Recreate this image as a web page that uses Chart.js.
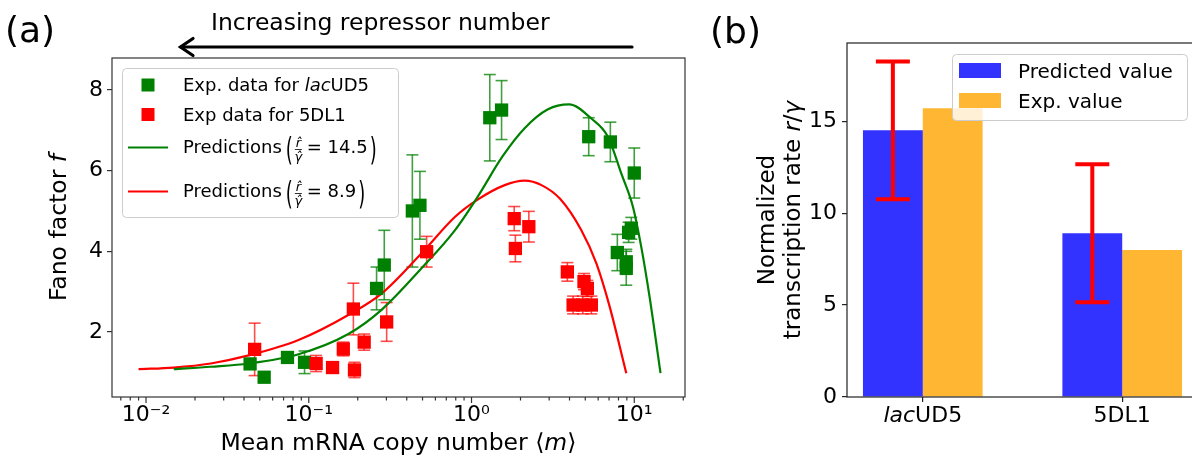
<!DOCTYPE html>
<html>
<head>
<meta charset="utf-8">
<script src="https://cdn.jsdelivr.net/npm/chart.js@4.4.0/dist/chart.umd.min.js"></script>
<style>
  html, body { margin: 0; padding: 0; background: #fff; overflow: hidden; }
  #wrap { position: relative; width: 1192px; height: 455px; overflow: hidden; }
  #chartA { position: absolute; left: 0; top: 0; }
  #chartB { position: absolute; left: 700px; top: 0; }
</style>
</head>
<body>
<div id="wrap">
  <canvas id="chartA" width="700" height="455"></canvas>
  <canvas id="chartB" width="540" height="455"></canvas>
</div>
<script>
// (a) experimental points, lacUD5
var lacX = [0.0436, 0.0532, 0.074, 0.0942, 0.261, 0.291, 0.433, 0.482, 1.295, 1.53, 5.25, 7.13, 7.87, 8.93, 8.93, 9.23, 9.59, 10.0]
var lacY = [1.21, 0.88, 1.37, 1.25, 3.08, 3.66, 5.0, 5.14, 7.31, 7.5, 6.84, 6.71, 3.97, 3.74, 3.58, 4.47, 4.57, 5.94]
var lacErr = [0.1, 0.1, 0.1, 0.28, 0.53, 0.86, 1.39, 0.84, 1.07, 0.73, 0.47, 0.49, 0.45, 0.31, 0.42, 0.25, 0.27, 0.62]

// (a) experimental points, 5DL1
var dlX = [0.0465, 0.111, 0.14, 0.163, 0.188, 0.191, 0.219, 0.301, 0.53, 1.83, 1.86, 2.25, 3.88, 4.21, 4.83, 4.91, 5.15, 5.45]
var dlY = [1.57, 1.22, 1.12, 1.58, 2.57, 1.06, 1.75, 2.25, 3.99, 4.81, 4.07, 4.61, 3.49, 2.67, 2.67, 3.25, 3.08, 2.67]
var dlErr = [0.65, 0.2, 0.1, 0.17, 0.64, 0.19, 0.2, 0.48, 0.38, 0.3, 0.33, 0.38, 0.23, 0.22, 0.22, 0.2, 0.2, 0.22]

// (a) prediction curves
var lacFitX = [0.0148, 0.025, 0.0427, 0.0865, 0.175, 0.28, 0.493, 0.79, 1.09, 1.55, 2.12, 2.95, 3.97, 5.45, 6.89, 8.32, 9.82, 11.04, 12.42, 14.5]
var lacFitY = [1.08, 1.14, 1.22, 1.45, 1.95, 2.55, 3.58, 4.52, 5.35, 6.35, 7.05, 7.52, 7.64, 7.29, 6.84, 5.93, 5.1, 4.11, 2.87, 0.98]
var dlFitX = [0.009, 0.0148, 0.025, 0.0427, 0.0865, 0.175, 0.28, 0.493, 0.79, 1.09, 1.6, 2.12, 2.69, 3.5, 4.73, 5.85, 7.06, 8.93]
var dlFitY = [1.08, 1.12, 1.22, 1.42, 1.8, 2.42, 2.95, 3.95, 4.85, 5.28, 5.64, 5.75, 5.64, 5.3, 4.52, 3.7, 2.63, 0.98]

var xMajorTicks = [0.01, 0.1, 1, 10]
var xTickLabels = ['10⁻²', '10⁻¹', '10⁰', '10¹']
var yTicksA = [2, 4, 6, 8]

// (b) bars
var strains = ['lac', 'UD5']
var barCats = [0, 1]
var predicted = [14.5, 8.9]
var predictedErr = [3.75, 3.75]
var measured = [15.7, 8.0]
var yTicksB = [0, 5, 10, 15]

var FONT = '"DejaVu Sans", sans-serif'
Chart.defaults.font.family = FONT
Chart.defaults.color = '#000'

function setFont(ctx, size, italic) {
  ctx.font = (italic ? 'italic ' : '') + size + 'px ' + FONT
}

// draws text made of upright / italic pieces
function drawRich(ctx, parts, x, y, size, align) {
  var w = 0
  parts.forEach(function (p) {
    setFont(ctx, size, p.italic)
    w += ctx.measureText(p.text).width
  })
  var cx = align === 'center' ? x - w / 2 : x
  ctx.textAlign = 'left'
  ctx.textBaseline = 'alphabetic'
  parts.forEach(function (p) {
    setFont(ctx, size, p.italic)
    ctx.fillText(p.text, cx, y)
    cx += ctx.measureText(p.text).width
  })
  return cx
}

function bigParen(ctx, ch, x, cy, size) {
  ctx.save()
  setFont(ctx, size, false)
  ctx.textBaseline = 'alphabetic'
  ctx.textAlign = 'left'
  ctx.translate(x, cy)
  ctx.scale(1, 1.75)
  ctx.fillText(ch, 0, 0.314 * size)
  var w = ctx.measureText(ch).width
  ctx.restore()
  return x + w
}

// "Predictions (r^/γ^ = v)"
function drawPrediction(ctx, x, b, value) {
  setFont(ctx, 18, false)
  ctx.fillText('Predictions', x, b)
  x += ctx.measureText('Predictions').width + 4
  x = bigParen(ctx, '(', x, b - 2.5, 18) + 2
  setFont(ctx, 13, true)
  ctx.textAlign = 'center'
  ctx.fillText('r\u0302', x + 3.5, b - 6)
  ctx.fillText('\u03b3\u0302', x + 3.5, b + 8)
  ctx.textAlign = 'left'
  ctx.fillRect(x, b - 4, 7, 0.8)
  x += 12
  setFont(ctx, 18, false)
  ctx.fillText('= ' + value, x, b)
  x += ctx.measureText('= ' + value).width + 2
  bigParen(ctx, ')', x, b - 2.5, 18)
}

function line(ctx, x1, y1, x2, y2) {
  ctx.beginPath()
  ctx.moveTo(x1, y1)
  ctx.lineTo(x2, y2)
  ctx.stroke()
}

var errorBarsA = {
  id: 'errorBarsA',
  beforeDatasetsDraw: function (chart) {
    var ctx = chart.ctx
    var x = chart.scales.x
    var y = chart.scales.y
    chart.data.datasets.forEach(function (ds) {
      if (!ds.errors) return
      ctx.save()
      ctx.strokeStyle = ds.errorColor
      ctx.lineWidth = 1.6
      ds.data.forEach(function (p, i) {
        var px = x.getPixelForValue(p.x)
        var top = y.getPixelForValue(p.y + ds.errors[i])
        var bot = y.getPixelForValue(p.y - ds.errors[i])
        line(ctx, px, top, px, bot)
        line(ctx, px - 6, top, px + 6, top)
        line(ctx, px - 6, bot, px + 6, bot)
      })
      ctx.restore()
    })
  },
}

var decorA = {
  id: 'decorA',
  afterDraw: function (chart) {
    var ctx = chart.ctx
    var a = chart.chartArea
    var x = chart.scales.x
    ctx.save()
    ctx.strokeStyle = '#333'
    ctx.lineWidth = 1.2
    ctx.strokeRect(a.left, a.top, a.right - a.left, a.bottom - a.top)
    x.ticks.forEach(function (t) {
      var px = x.getPixelForValue(t.value)
      line(ctx, px, a.bottom, px, a.bottom + (t.major ? 6 : 3.5))
    })

    ctx.fillStyle = '#000'
    // axis titles
    drawRich(ctx, [{ text: 'Mean mRNA copy number ' }, { text: '\u27e8' }, { text: 'm', italic: true }, { text: '\u27e9' }], (a.left + a.right) / 2, 450, 23.5, 'center')
    ctx.save()
    ctx.translate(66, (a.top + a.bottom) / 2)
    ctx.rotate(-Math.PI / 2)
    drawRich(ctx, [{ text: 'Fano factor ' }, { text: 'f', italic: true }], 0, 0, 23.5, 'center')
    ctx.restore()

    // panel label and arrow
    setFont(ctx, 36, false)
    ctx.fillText('(a)', 5, 42)
    setFont(ctx, 23.5, false)
    ctx.fillText('Increasing repressor number', 211, 30)
    ctx.lineWidth = 3.2
    ctx.strokeStyle = '#000'
    ctx.lineCap = 'round'
    line(ctx, 632, 47, 181, 47)
    ctx.beginPath()
    ctx.moveTo(193, 38.5)
    ctx.lineTo(180.5, 47)
    ctx.lineTo(193, 55.5)
    ctx.stroke()
    ctx.lineCap = 'butt'

    // legend
    ctx.fillStyle = 'rgba(255,255,255,0.8)'
    ctx.strokeStyle = '#cccccc'
    ctx.lineWidth = 1
    ctx.beginPath()
    ctx.roundRect(122.5, 68.5, 276, 149, 4)
    ctx.fill()
    ctx.stroke()
    ctx.fillStyle = '#008000'
    ctx.fillRect(141.5, 78.5, 13, 13)
    ctx.fillStyle = '#ff0000'
    ctx.fillRect(141.5, 108, 13, 13)
    ctx.lineWidth = 2
    ctx.strokeStyle = '#008000'
    line(ctx, 128, 147.5, 168, 147.5)
    ctx.strokeStyle = '#ff0000'
    line(ctx, 128, 191.5, 168, 191.5)
    ctx.fillStyle = '#000'
    drawRich(ctx, [{ text: 'Exp. data for ' }, { text: 'lac', italic: true }, { text: 'UD5' }], 183, 91, 18)
    drawRich(ctx, [{ text: 'Exp data for 5DL1' }], 183, 121, 18)
    drawPrediction(ctx, 183, 153, '14.5')
    drawPrediction(ctx, 183, 197, '8.9')
    ctx.restore()
  },
}

var xMinorA = []
;[0.001, 0.01, 0.1, 1, 10].forEach(function (d) {
  for (var k = 2; k <= 9; k++) xMinorA.push(+(k * d).toPrecision(3))
})

new Chart(document.getElementById('chartA'), {
  type: 'scatter',
  data: {
    datasets: [
      {
        label: 'Exp data for 5DL1',
        data: dlX.map(function (v, i) { return { x: v, y: dlY[i] } }),
        errors: dlErr,
        errorColor: 'rgba(255,0,0,0.7)',
        pointStyle: 'rect',
        pointRadius: 9.4,
        pointHoverRadius: 9.4,
        backgroundColor: '#ff0000',
        borderWidth: 0,
        order: 0,
      },
      {
        label: 'Exp. data for lacUD5',
        data: lacX.map(function (v, i) { return { x: v, y: lacY[i] } }),
        errors: lacErr,
        errorColor: 'rgba(0,128,0,0.75)',
        pointStyle: 'rect',
        pointRadius: 9.4,
        pointHoverRadius: 9.4,
        backgroundColor: '#008000',
        borderWidth: 0,
        order: 1,
      },
      {
        label: 'Predictions 14.5',
        data: lacFitX.map(function (v, i) { return { x: v, y: lacFitY[i] } }),
        showLine: true,
        pointRadius: 0,
        borderColor: '#008000',
        borderWidth: 2.2,
        cubicInterpolationMode: 'monotone',
        order: 2,
      },
      {
        label: 'Predictions 8.9',
        data: dlFitX.map(function (v, i) { return { x: v, y: dlFitY[i] } }),
        showLine: true,
        pointRadius: 0,
        borderColor: '#ff0000',
        borderWidth: 2.2,
        cubicInterpolationMode: 'monotone',
        order: 2,
      },
    ],
  },
  options: {
    responsive: false,
    animation: false,
    layout: { padding: { top: 58, right: 15, bottom: 0, left: 0 } },
    plugins: { legend: { display: false }, tooltip: { enabled: false } },
    scales: {
      x: {
        type: 'logarithmic',
        min: 0.00618,
        max: 20.5,
        border: { display: false },
        grid: { display: true, drawOnChartArea: false, drawTicks: false },
        afterBuildTicks: function (scale) {
          var vals = xMinorA.concat(xMajorTicks).filter(function (v) { return v >= 0.00618 && v <= 20.5 })
          vals.sort(function (p, q) { return p - q })
          scale.ticks = vals.map(function (v) { return { value: v, major: xMajorTicks.indexOf(v) >= 0 } })
        },
        ticks: {
          autoSkip: false,
          maxRotation: 0,
          padding: 5,
          color: '#000',
          font: { size: 22 },
          callback: function (value) {
            var i = xMajorTicks.indexOf(value)
            return i >= 0 ? xTickLabels[i] : ''
          },
        },
        afterFit: function (scale) { scale.height = 58 },
      },
      y: {
        min: 0.39,
        max: 8.79,
        border: { display: false },
        grid: { drawOnChartArea: false, tickLength: 5, color: '#333', lineWidth: 1.2 },
        afterBuildTicks: function (scale) {
          scale.ticks = yTicksA.map(function (v) { return { value: v } })
        },
        ticks: { padding: 4, color: '#000', font: { size: 22 } },
        afterFit: function (scale) { scale.width = 112 },
      },
    },
  },
  plugins: [errorBarsA, decorA],
})

// panel (b)
var decorB = {
  id: 'decorB',
  afterDatasetsDraw: function (chart) {
    var ctx = chart.ctx
    var y = chart.scales.y
    var meta = chart.getDatasetMeta(0)
    ctx.save()
    ctx.strokeStyle = '#ff0000'
    ctx.lineWidth = 4
    meta.data.forEach(function (bar, i) {
      var top = y.getPixelForValue(predicted[i] + predictedErr[i])
      var bot = y.getPixelForValue(predicted[i] - predictedErr[i])
      line(ctx, bar.x, top, bar.x, bot)
      line(ctx, bar.x - 17, top, bar.x + 17, top)
      line(ctx, bar.x - 17, bot, bar.x + 17, bot)
    })
    ctx.restore()
  },
  afterDraw: function (chart) {
    var ctx = chart.ctx
    var a = chart.chartArea
    var x = chart.scales.x
    ctx.save()
    ctx.strokeStyle = '#222'
    ctx.lineWidth = 1.2
    ctx.strokeRect(a.left, a.top, a.right - a.left, a.bottom - a.top)

    ctx.fillStyle = '#000'
    drawRich(ctx, [{ text: strains[0], italic: true }, { text: strains[1] }], x.getPixelForValue(barCats[0]), 422, 22, 'center')
    drawRich(ctx, [{ text: '5DL1' }], x.getPixelForValue(barCats[1]), 422, 22, 'center')

    ctx.save()
    ctx.translate(74, (a.top + a.bottom) / 2)
    ctx.rotate(-Math.PI / 2)
    drawRich(ctx, [{ text: 'Normalized' }], 0, 0, 23, 'center')
    ctx.restore()
    ctx.save()
    ctx.translate(100, (a.top + a.bottom) / 2)
    ctx.rotate(-Math.PI / 2)
    drawRich(ctx, [{ text: 'transcription rate ' }, { text: 'r', italic: true }, { text: '/' }, { text: '\u03b3', italic: true }], 0, 0, 23, 'center')
    ctx.restore()

    setFont(ctx, 36, false)
    ctx.fillText('(b)', 10, 43)

    // legend
    ctx.fillStyle = 'rgba(255,255,255,0.8)'
    ctx.strokeStyle = '#cccccc'
    ctx.lineWidth = 1
    ctx.beginPath()
    ctx.roundRect(252.5, 54.5, 235, 66, 4)
    ctx.fill()
    ctx.stroke()
    ctx.fillStyle = chart.data.datasets[0].backgroundColor
    ctx.fillRect(259, 63, 42, 15)
    ctx.fillStyle = chart.data.datasets[1].backgroundColor
    ctx.fillRect(259, 93, 42, 15)
    ctx.fillStyle = '#000'
    setFont(ctx, 20, false)
    ctx.fillText(chart.data.datasets[0].label, 318, 78)
    ctx.fillText(chart.data.datasets[1].label, 318, 108)
    ctx.restore()
  },
}

new Chart(document.getElementById('chartB'), {
  type: 'bar',
  data: {
    datasets: [
      {
        label: 'Predicted value',
        data: barCats.map(function (c, i) { return { x: c, y: predicted[i] } }),
        backgroundColor: 'rgba(0,0,255,0.8)',
        borderWidth: 0,
      },
      {
        label: 'Exp. value',
        data: barCats.map(function (c, i) { return { x: c, y: measured[i] } }),
        backgroundColor: 'rgba(255,165,0,0.8)',
        borderWidth: 0,
      },
    ],
  },
  options: {
    responsive: false,
    animation: false,
    categoryPercentage: 0.6,
    barPercentage: 1.0,
    layout: { padding: { top: 43, right: 42, bottom: 0, left: 0 } },
    plugins: { legend: { display: false }, tooltip: { enabled: false } },
    scales: {
      x: {
        type: 'linear',
        min: -0.38,
        max: 1.38,
        offset: false,
        border: { display: false },
        grid: { offset: false, drawOnChartArea: false, tickLength: 5, color: '#222', lineWidth: 1.2 },
        afterBuildTicks: function (scale) {
          scale.ticks = barCats.map(function (v) { return { value: v } })
        },
        ticks: { display: false },
        afterFit: function (scale) { scale.height = 58 },
      },
      y: {
        min: 0,
        max: 19.25,
        border: { display: false },
        grid: { drawOnChartArea: false, tickLength: 5, color: '#222', lineWidth: 1.2 },
        afterBuildTicks: function (scale) {
          scale.ticks = yTicksB.map(function (v) { return { value: v } })
        },
        ticks: { padding: 5, color: '#000', font: { size: 22 } },
        afterFit: function (scale) { scale.width = 147 },
      },
    },
  },
  plugins: [decorB],
})
</script>
</body>
</html>
